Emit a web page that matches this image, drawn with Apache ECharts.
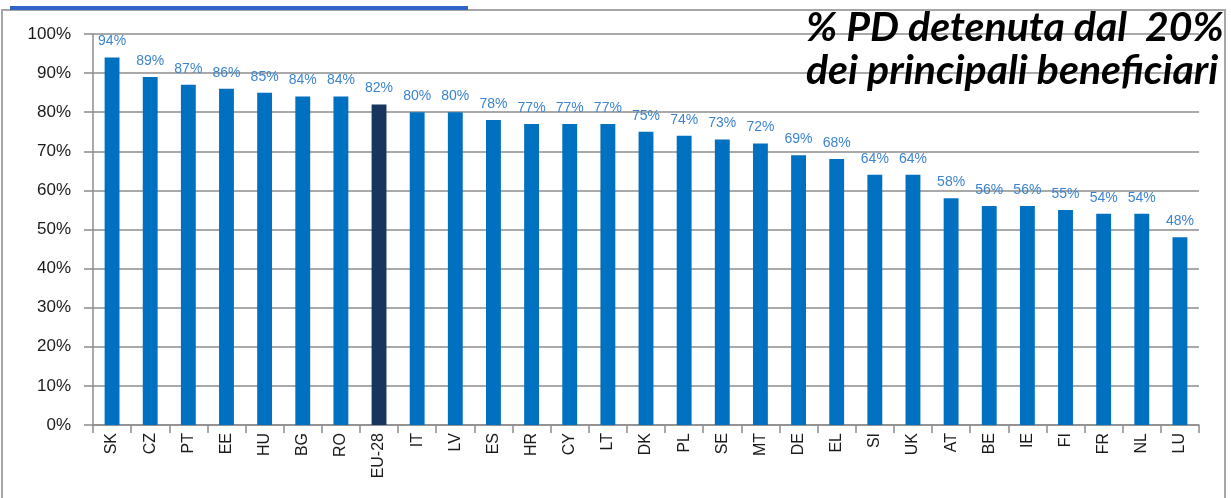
<!DOCTYPE html>
<html>
<head>
<meta charset="utf-8">
<script src="https://cdn.jsdelivr.net/npm/echarts@6/dist/echarts.min.js"></script>
<style>
  html, body { margin: 0; padding: 0; background: #fff; }
  #chart { width: 1231px; height: 498px; }
</style>
</head>
<body>
<div id="chart"></div>
<script>
// dati
var paesi = ['SK', 'CZ', 'PT', 'EE', 'HU', 'BG', 'RO', 'EU-28', 'IT', 'LV', 'ES', 'HR', 'CY', 'LT', 'DK',
             'PL', 'SE', 'MT', 'DE', 'EL', 'SI', 'UK', 'AT', 'BE', 'IE', 'FI', 'FR', 'NL', 'LU'];
var quote = [94, 89, 87, 86, 85, 84, 84, 82, 80, 80, 78, 77, 77, 77, 75,
             74, 73, 72, 69, 68, 64, 64, 58, 56, 56, 55, 54, 54, 48];
var tickY = [0, 10, 20, 30, 40, 50, 60, 70, 80, 90, 100];
var evidenziato = 'EU-28';

var chart = echarts.init(document.getElementById('chart'));

var option = {
    animation: false,
    backgroundColor: '#fff',
    grid: { left: 93, right: 32, top: 34, bottom: 73 },
    xAxis: {
        type: 'category',
        data: paesi,
        axisLine: { lineStyle: { color: '#8c8c8c', width: 1.5 } },
        axisTick: { show: true, alignWithLabel: false, length: 8, lineStyle: { color: '#8c8c8c', width: 1.5 } },
        axisLabel: {
            rotate: 90,
            margin: 8,
            color: '#1a1a1a',
            fontSize: 16,
            fontFamily: 'Liberation Sans',
            interval: 0
        }
    },
    yAxis: {
        type: 'value',
        min: tickY[0],
        max: tickY[tickY.length - 1],
        interval: 10,
        axisLine: { show: true, lineStyle: { color: '#8c8c8c', width: 1.5 } },
        axisTick: { show: true, length: 9, lineStyle: { color: '#8c8c8c', width: 1.5 } },
        splitLine: { lineStyle: { color: '#8c8c8c', width: 1.5 } },
        axisLabel: {
            margin: 22,
            color: '#1a1a1a',
            fontSize: 17,
            fontFamily: 'Liberation Sans',
            formatter: '{value}%'
        }
    },
    series: [{
        type: 'bar',
        barWidth: '39%',
        data: quote.map(function (v, i) {
            return {
                value: v,
                itemStyle: { color: paesi[i] === evidenziato ? '#17365d' : '#0070c0' }
            };
        }),
        label: {
            show: true,
            position: 'top',
            distance: 9,
            color: '#3c84d0',
            fontSize: 14,
            fontFamily: 'Liberation Sans',
            formatter: '{c}%'
        }
    }],
    graphic: [
        // cornice
        { type: 'rect', shape: { x: 2, y: 10, width: 1223, height: 500 }, style: { fill: 'none', stroke: '#a6a6a6', lineWidth: 2 }, z: 0 },
        // sottolineatura del titolo tagliato
        { type: 'rect', shape: { x: 10, y: 6, width: 458, height: 4 }, style: { fill: '#2f63c8' }, z: 10 },
        {
            type: 'text',
            left: 806,
            top: 6,
            z: 20,
            style: {
                text: '% PD detenuta dal  20%\ndei principali beneficiari',
                fill: '#000',
                font: 'italic bold 41px Lato',
                lineHeight: 43,
                align: 'left'
            }
        }
    ]
};

option && chart.setOption(option);

window.addEventListener('resize', function () {
    chart.resize();
});
</script>
</body>
</html>
